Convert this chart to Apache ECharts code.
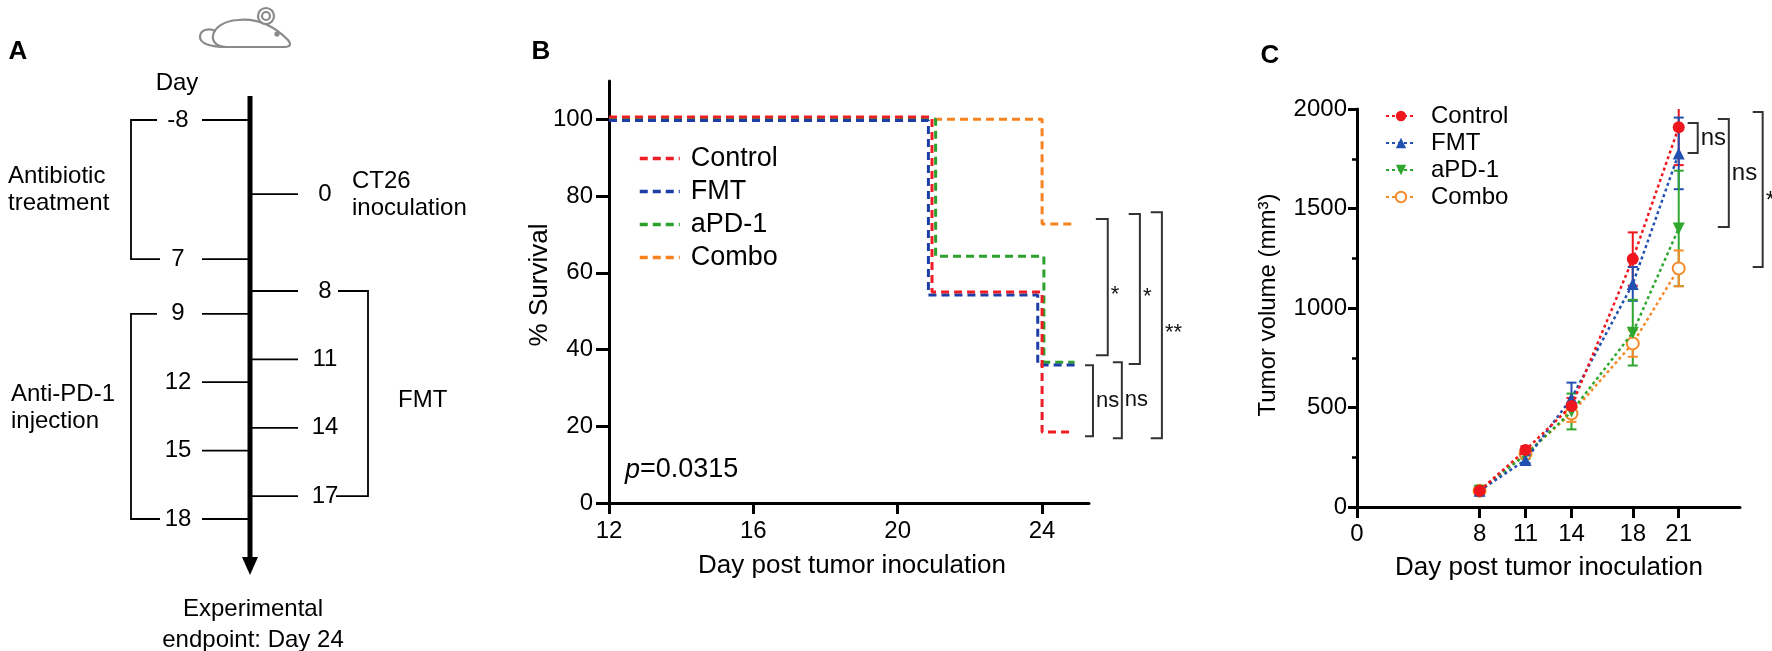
<!DOCTYPE html>
<html>
<head>
<meta charset="utf-8">
<script src="https://cdn.jsdelivr.net/npm/echarts@6/dist/echarts.min.js"></script>
<style>
html, body { margin: 0; padding: 0; background: #fff; }
#container { width: 1772px; height: 651px; }
</style>
</head>
<body>
<div id="container"></div>
<script>
var FONT = 'Arial, "Liberation Sans", sans-serif';

// ---- panel A: treatment schedule (days) ----
var antibioticDays = [-8, 7];
var antiPd1Days = [9, 12, 15, 18];
var inoculationDays = [0];
var fmtDays = [8, 11, 14, 17];

// ---- panel B: survival (% alive), step points ----
var groups = ['Control', 'FMT', 'aPD-1', 'Combo'];
var survControlX = [12, 20.95, 24.0, 24.85];
var survControlY = [100.6, 55.0, 18.5, 18.5];
var survFmtX = [12, 20.85, 23.88, 24.9];
var survFmtY = [99.7, 54.2, 36.0, 36.0];
var survApd1X = [12, 21.05, 24.05, 24.9];
var survApd1Y = [100, 64.3, 36.7, 36.7];
var survComboX = [12, 24.0, 24.85];
var survComboY = [100, 72.7, 72.7];
var survTicksX = [12, 16, 20, 24];
var survTicksY = [0, 20, 40, 60, 80, 100];
// significance brackets: [x left, x right, y top, y bottom, label]
var survSig = [
  [25.49, 25.82, 74.0, 38.5, '*'],
  [26.40, 26.71, 75.3, 36.2, '*'],
  [27.01, 27.32, 75.8, 16.9, '**'],
  [25.19, 25.41, 35.9, 17.4, 'ns'],
  [25.96, 26.21, 36.7, 16.9, 'ns']
];

// ---- panel C: tumor volume (mm3), mean and error ----
var volDays = [8, 11, 14, 18, 21];
var volControl = [82, 286, 508, 1246, 1908];
var volControlErr = [6, 20, 40, 134, 190];
var volFmt = [82, 236, 547, 1121, 1777];
var volFmtErr = [6, 15, 78, 85, 180];
var volApd1 = [82, 262, 480, 876, 1400];
var volApd1Err = [6, 20, 90, 165, 290];
var volCombo = [82, 268, 470, 822, 1199];
var volComboErr = [6, 20, 42, 67, 90];
var volTicksX = [0, 8, 11, 14, 18, 21];
var volSig = [
  [21.58, 22.24, 1930, 1779, 'ns'],
  [23.55, 24.27, 1950, 1407, 'ns'],
  [25.83, 26.48, 1985, 1206, '*']
];

var colB = { 'Control': '#ee1c25', 'FMT': '#1d3ea6', 'aPD-1': '#2ba02b', 'Combo': '#f7821f' };
var colC = { 'Control': '#f0161e', 'FMT': '#2150b0', 'aPD-1': '#2fa72f', 'Combo': '#f78a2a' };

function pairs(xs, ys) {
  var out = [];
  for (var i = 0; i < xs.length; i++) out.push([xs[i], ys[i]]);
  return out;
}

// ---------- panel A drawn as graphic ----------
function tlY(d) { return d <= 7 ? 120 + (d + 8) * 9.27 : 291 + (d - 8) * 22.8; }
var AX = 250;
var aEls = [];
function txt(x, y, s, size, align, extra) {
  var st = { text: s, x: x, y: y, fontSize: size, fontFamily: FONT, fill: '#000',
    align: align || 'center', verticalAlign: 'middle' };
  if (extra) for (var k in extra) st[k] = extra[k];
  return { type: 'text', style: st, z: 10 };
}
function seg(x1, y1, x2, y2, w, c) {
  return { type: 'line', shape: { x1: x1, y1: y1, x2: x2, y2: y2 }, style: { stroke: c || '#000', lineWidth: w || 1.8 } };
}
aEls.push(seg(AX, 96, AX, 560, 5));
aEls.push({ type: 'polygon', shape: { points: [[AX - 8, 557], [AX + 8, 557], [AX, 575]] }, style: { fill: '#000' } });
antibioticDays.concat(antiPd1Days).forEach(function (d) {
  aEls.push(seg(202, tlY(d), AX, tlY(d)));
  aEls.push(txt(178, tlY(d), String(d), 24));
});
inoculationDays.concat(fmtDays).forEach(function (d) {
  aEls.push(seg(AX, tlY(d), 298, tlY(d)));
  aEls.push(txt(325, tlY(d), String(d), 24));
});
function leftBracket(d0, d1) {
  var y0 = tlY(d0), y1 = tlY(d1);
  aEls.push({ type: 'polyline', shape: { points: [[157, y0], [131, y0], [131, y1], [160, y1]] },
    style: { stroke: '#000', lineWidth: 1.8, fill: null } });
}
leftBracket(antibioticDays[0], antibioticDays[antibioticDays.length - 1]);
leftBracket(antiPd1Days[0], antiPd1Days[antiPd1Days.length - 1]);
(function () {
  var y0 = tlY(fmtDays[0]), y1 = tlY(fmtDays[fmtDays.length - 1]);
  aEls.push({ type: 'polyline', shape: { points: [[338, y0], [368, y0], [368, y1], [336, y1]] },
    style: { stroke: '#000', lineWidth: 1.8, fill: null } });
})();
aEls.push(txt(177, 83, 'Day', 24));
aEls.push(txt(8, 190, 'Antibiotic\ntreatment', 24, 'left', { lineHeight: 27 }));
aEls.push(txt(11, 408, 'Anti-PD-1\ninjection', 24, 'left', { lineHeight: 27 }));
aEls.push(txt(352, 195, 'CT26\ninoculation', 24, 'left', { lineHeight: 27 }));
aEls.push(txt(398, 400, 'FMT', 24, 'left'));
aEls.push(txt(253, 625, 'Experimental\nendpoint: Day 24', 24, 'center', { lineHeight: 31 }));
// panel letters
aEls.push(txt(18, 52, 'A', 26, 'center', { fontWeight: 'bold' }));
aEls.push(txt(541, 52, 'B', 26, 'center', { fontWeight: 'bold' }));
aEls.push(txt(1270, 56, 'C', 26, 'center', { fontWeight: 'bold' }));
// axis titles
aEls.push({ type: 'text', x: 540, y: 285, rotation: Math.PI / 2,
  style: { text: '% Survival', fontSize: 26, fontFamily: FONT, fill: '#000', align: 'center', verticalAlign: 'middle' } });
aEls.push(txt(852, 566, 'Day post tumor inoculation', 26));
aEls.push({ type: 'text', x: 1268, y: 305, rotation: Math.PI / 2,
  style: { text: 'Tumor volume (mm³)', fontSize: 24, fontFamily: FONT, fill: '#000', align: 'center', verticalAlign: 'middle' } });
aEls.push(txt(1549, 568, 'Day post tumor inoculation', 26));
aEls.push({ type: 'text', style: { text: '{i|p}=0.0315', x: 625, y: 470, fontSize: 27, fontFamily: FONT, fill: '#000',
  verticalAlign: 'middle', rich: { i: { fontStyle: 'italic', fontSize: 27, fontFamily: FONT } } }, z: 10 });

// mouse icon (inline svg)
var mouseSvg = '<svg xmlns="http://www.w3.org/2000/svg" width="100" height="50" viewBox="195 2 100 50">' +
  '<g fill="none" stroke="#8a8a8a" stroke-width="2.2" stroke-linecap="round">' +
  '<path d="M226,47 C206,47 208,22 238,20 C257,18 274,26 288,40 C292,45 290,47 283,47 Z" fill="#fff"/>' +
  '<path d="M226,47 C212,47 199,44 200,36 C201,29 210,28 215,31"/>' +
  '<circle cx="266" cy="16" r="8" fill="#fff"/><circle cx="266" cy="16" r="4"/>' +
  '<circle cx="277" cy="34" r="1.5" fill="#8a8a8a"/></g></svg>';
aEls.push({ type: 'image', style: { image: 'data:image/svg+xml;charset=utf-8,' + encodeURIComponent(mouseSvg),
  x: 195, y: 2, width: 100, height: 50 } });

// ---------- series ----------
var survData = {
  'Control': pairs(survControlX, survControlY),
  'FMT': pairs(survFmtX, survFmtY),
  'aPD-1': pairs(survApd1X, survApd1Y),
  'Combo': pairs(survComboX, survComboY)
};
var volData = {
  'Control': [volControl, volControlErr, 'circle', 0],
  'FMT': [volFmt, volFmtErr, 'triangle', 0],
  'aPD-1': [volApd1, volApd1Err, 'triangle', 180],
  'Combo': [volCombo, volComboErr, 'emptyCircle', 0]
};

var series = [];
['Combo', 'aPD-1', 'FMT', 'Control'].forEach(function (g, k) {
  series.push({
    type: 'line', name: g, xAxisIndex: 0, yAxisIndex: 0, step: 'end', symbol: 'none',
    data: survData[g], z: 2 + k, silent: true,
    lineStyle: { color: colB[g], width: 3, type: [8, 5] }, itemStyle: { color: colB[g] }
  });
});

function bracketSeries(specs, xi, yi, fs, starDy) {
  return {
    type: 'custom', name: 'sig' + xi, xAxisIndex: xi, yAxisIndex: yi, clip: false, silent: true, z: 20,
    data: specs.map(function (s) { return s.slice(0, 4); }),
    renderItem: function (params, api) {
      var s = specs[params.dataIndex];
      var tl = api.coord([api.value(0), api.value(2)]);
      var br = api.coord([api.value(1), api.value(3)]);
      var star = s[4].indexOf('*') >= 0;
      return { type: 'group', children: [
        { type: 'polyline', shape: { points: [[tl[0], tl[1]], [br[0], tl[1]], [br[0], br[1]], [tl[0], br[1]]] },
          style: { stroke: '#333', lineWidth: 2, fill: null } },
        { type: 'text', style: { text: s[4], x: br[0] + 3, y: (tl[1] + br[1]) / 2 + (star ? starDy : 0),
          fontSize: fs, fontFamily: FONT, fill: '#111', align: 'left', verticalAlign: 'middle' } }
      ] };
    }
  };
}
series.push(bracketSeries(survSig, 0, 0, 22, 8));

groups.forEach(function (g) {
  var v = volData[g];
  series.push({
    type: 'custom', name: 'err-' + g, xAxisIndex: 1, yAxisIndex: 1, silent: true, z: 3, clip: true,
    data: volDays.map(function (d, i) { return [d, v[0][i] - v[1][i], v[0][i] + v[1][i]]; }),
    renderItem: function (params, api) {
      var lo = api.coord([api.value(0), api.value(1)]);
      var hi = api.coord([api.value(0), api.value(2)]);
      var st = { stroke: colC[g], lineWidth: 2 };
      return { type: 'group', children: [
        { type: 'line', shape: { x1: lo[0], y1: lo[1], x2: hi[0], y2: hi[1] }, style: st },
        { type: 'line', shape: { x1: lo[0] - 5, y1: lo[1], x2: lo[0] + 5, y2: lo[1] }, style: st },
        { type: 'line', shape: { x1: hi[0] - 5, y1: hi[1], x2: hi[0] + 5, y2: hi[1] }, style: st }
      ] };
    }
  });
});
['Combo', 'aPD-1', 'FMT', 'Control'].forEach(function (g, k) {
  var v = volData[g];
  series.push({
    type: 'line', name: 'C-' + g, xAxisIndex: 1, yAxisIndex: 1, silent: true, z: 4 + k,
    data: pairs(volDays, v[0]), symbol: v[2], symbolRotate: v[3], symbolSize: 12, showAllSymbol: true,
    lineStyle: { color: colC[g], width: 2.5, type: [3, 3] },
    itemStyle: { color: colC[g], borderWidth: v[2] === 'emptyCircle' ? 2 : 0 }
  });
});
series.push(bracketSeries(volSig, 1, 1, 24, 12));

var axisTxt = { color: '#000', fontFamily: FONT };
var option = {
  animation: false,
  backgroundColor: '#fff',
  grid: [
    { left: 609, top: 81, width: 480, height: 422, outerBoundsMode: 'none', containLabel: false },
    { left: 1357, top: 109, width: 383, height: 398, outerBoundsMode: 'none', containLabel: false }
  ],
  xAxis: [
    { gridIndex: 0, type: 'value', min: 12, max: 25.3,
      axisLine: { lineStyle: { color: '#000', width: 3 } },
      axisTick: { customValues: survTicksX, length: 11, lineStyle: { color: '#000', width: 3 } },
      axisLabel: Object.assign({ customValues: survTicksX, fontSize: 24, margin: 16 }, axisTxt),
      splitLine: { show: false } },
    { gridIndex: 1, type: 'value', min: 0, max: 25,
      axisLine: { lineStyle: { color: '#000', width: 3 } },
      axisTick: { customValues: volTicksX, length: 11, lineStyle: { color: '#000', width: 3 } },
      axisLabel: Object.assign({ customValues: volTicksX, fontSize: 24, margin: 15 }, axisTxt),
      splitLine: { show: false } }
  ],
  yAxis: [
    { gridIndex: 0, type: 'value', min: 0, max: 110,
      axisLine: { show: true, lineStyle: { color: '#000', width: 3 } },
      axisTick: { show: true, customValues: survTicksY, length: 13, lineStyle: { color: '#000', width: 3 } },
      axisLabel: Object.assign({ customValues: survTicksY, fontSize: 24, margin: 16 }, axisTxt),
      splitLine: { show: false } },
    { gridIndex: 1, type: 'value', min: 0, max: 2000, interval: 500,
      axisLine: { show: true, lineStyle: { color: '#000', width: 3 } },
      axisTick: { show: true, length: 9, lineStyle: { color: '#000', width: 3 } },
      minorTick: { show: true, splitNumber: 2, length: 5, lineStyle: { color: '#000', width: 2.5 } },
      axisLabel: Object.assign({ fontSize: 24, margin: 10, formatter: function (v) { return String(v); } }, axisTxt),
      splitLine: { show: false }, minorSplitLine: { show: false } }
  ],
  legend: [
    { data: groups, orient: 'vertical', left: 638, top: 145, itemWidth: 40, itemHeight: 14, itemGap: 6,
      padding: 0, selectedMode: false, itemStyle: { opacity: 0 }, lineStyle: { width: 3.5 },
      textStyle: { fontSize: 27, fontFamily: FONT, color: '#000', padding: [0, 0, 0, 6] } },
    { data: groups.map(function (g) { return 'C-' + g; }), orient: 'vertical', left: 1385, top: 104,
      itemWidth: 30, itemHeight: 13, itemGap: 3, padding: 0, selectedMode: false,
      formatter: function (n) { return n.slice(2); },
      textStyle: { fontSize: 24, fontFamily: FONT, color: '#000', padding: [0, 0, 0, 10] } }
  ],
  graphic: { elements: aEls },
  series: series
};

var chart = echarts.init(document.getElementById('container'));
chart.setOption(option);
</script>
</body>
</html>
